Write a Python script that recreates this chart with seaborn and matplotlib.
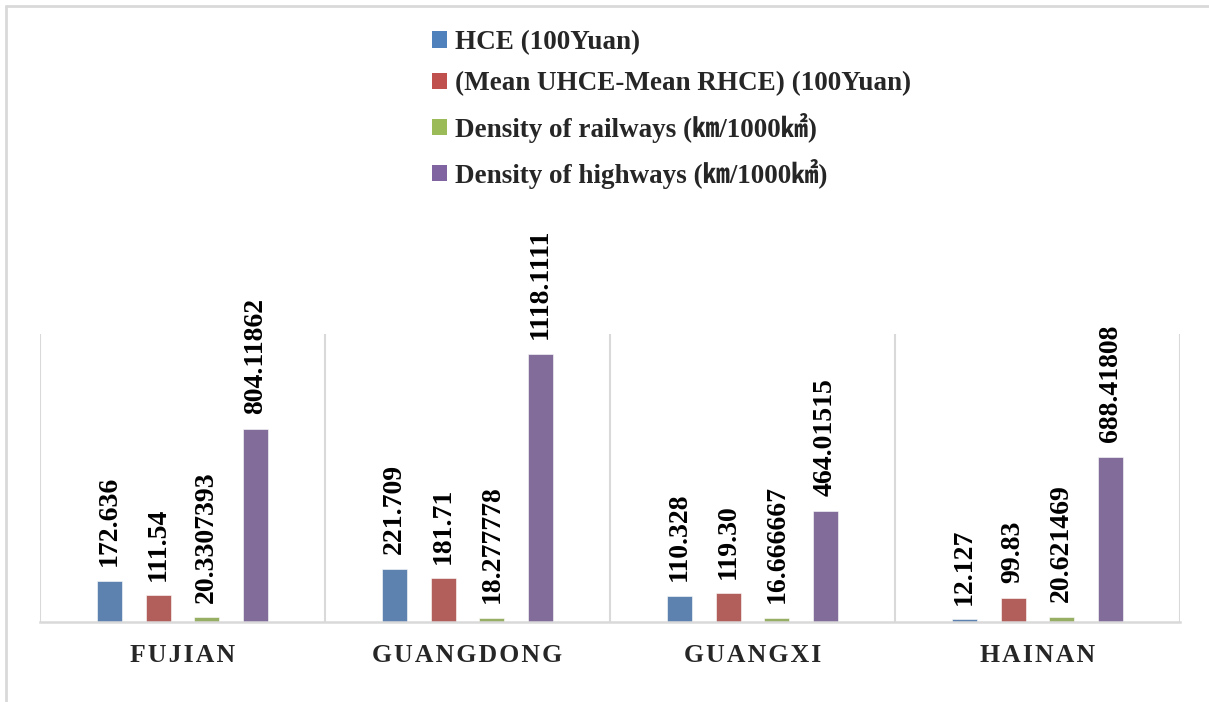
import matplotlib
matplotlib.use("Agg")
import matplotlib.pyplot as plt
from matplotlib.patches import Patch
from matplotlib.lines import Line2D
import pandas as pd
import seaborn as sns

# ---- data -------------------------------------------------------------
provinces = ["FUJIAN", "GUANGDONG", "GUANGXI", "HAINAN"]
series_names = [
    "HCE (100Yuan)",
    "(Mean UHCE-Mean RHCE) (100Yuan)",
    "Density of railways (\u339e/1000\u33a2)",
    "Density of highways (\u339e/1000\u33a2)",
]
hce = [172.636, 221.709, 110.328, 12.127]
uhce_minus_rhce = [111.54, 181.71, 119.30, 99.83]
railway_density = [20.3307393, 18.277778, 16.666667, 20.621469]
highway_density = [804.11862, 1118.1111, 464.01515, 688.41808]
label_formats = ["{:.3f}", "{:.2f}", "{}", "{}"]
colors = ["#4F81BD", "#C0504D", "#9BBB59", "#8064A2"]

series_values = [hce, uhce_minus_rhce, railway_density, highway_density]
df = pd.DataFrame(
    [
        {"province": p, "series": s, "value": v}
        for s, vals in zip(series_names, series_values)
        for p, v in zip(provinces, vals)
    ]
)

# ---- style ------------------------------------------------------------
sns.set_style("white")
plt.rcParams["font.family"] = ["Liberation Serif", "Noto Sans CJK SC", "DejaVu Sans"]
plt.rcParams["font.weight"] = "bold"

W, H = 1209, 702
fig = plt.figure(figsize=(W / 100, H / 100), dpi=100)
ax = fig.add_axes([40 / W, 80 / H, 1140 / W, 288 / H])

sns.barplot(
    data=df, x="province", y="value", hue="series",
    order=provinces, hue_order=series_names, palette=colors,
    width=0.683, gap=0.485, ax=ax, legend=False,
    edgecolor="white", linewidth=0.4,
)

ax.set_xlim(-0.5, len(provinces) - 0.5)
ax.set_ylim(0, 1200)
ax.set_xlabel("")
ax.set_ylabel("")
ax.set_yticks([])

# value labels above bars
for cont, fmt in zip(ax.containers, label_formats):
    ax.bar_label(cont, labels=[fmt.format(v) for v in cont.datavalues],
                 rotation=90, padding=10.5, fontsize=20,
                 fontweight="bold", color="black")

# category separators
gridc = "#D9D9D9"
for xb in [i - 0.5 for i in range(len(provinces) + 1)]:
    ax.axvline(xb, color=gridc, lw=1.5, zorder=0)
for side in ["top", "left", "right"]:
    ax.spines[side].set_visible(False)
ax.spines["bottom"].set_color(gridc)
ax.spines["bottom"].set_linewidth(1.8)

# spaced category labels
ax.set_xticks(range(len(provinces)))
ax.set_xticklabels(["\u200a".join(p) for p in provinces],
                   fontsize=18.5, fontweight="bold",
                   family=["Liberation Serif", "DejaVu Serif"])
ax.tick_params(axis="x", length=0, pad=16)

# legend
handles = [Patch(facecolor=c, edgecolor="none") for c in colors]
fig.legend(handles, series_names, loc="upper left",
           bbox_to_anchor=(432 / W, 1 - 30 / H), frameon=False,
           prop={"size": 19.5, "weight": "bold"},
           handlelength=0.55, handleheight=0.55, handletextpad=0.3,
           labelspacing=0.6, borderaxespad=0, borderpad=0)

# outer frame lines
fig.add_artist(Line2D([6 / W, 6 / W], [0, 1 - 6 / H], transform=fig.transFigure,
                      color=gridc, lw=2))
fig.add_artist(Line2D([6 / W, 1], [1 - 6 / H, 1 - 6 / H], transform=fig.transFigure,
                      color=gridc, lw=2))

fig.savefig("out.png", dpi=100, facecolor="white")
